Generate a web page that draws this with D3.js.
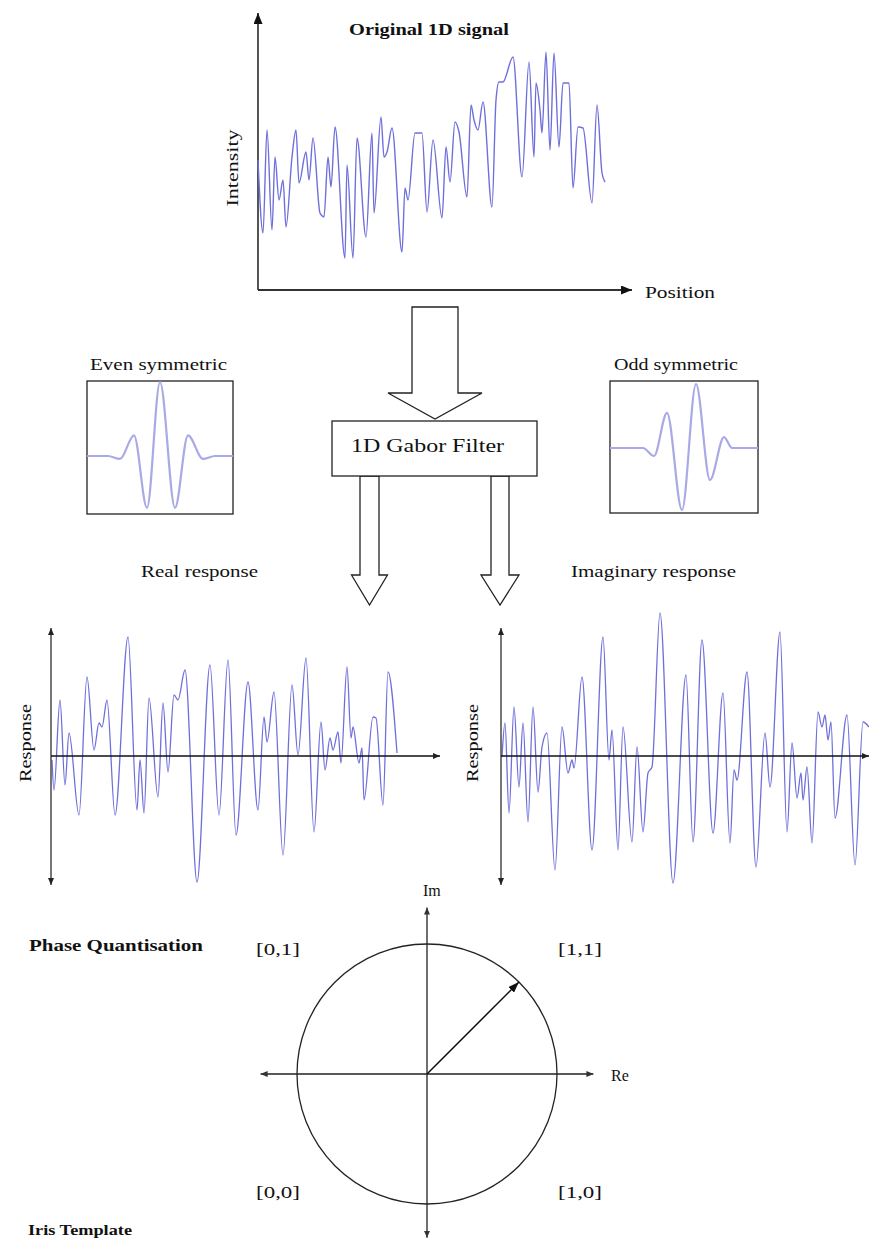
<!DOCTYPE html>
<html>
<head>
<meta charset="utf-8">
<script src="https://cdn.jsdelivr.net/npm/d3@7"></script>
<style>
body { margin: 0; background: #fff; }
svg { display: block; }
text { font-family: "Liberation Serif", "Times New Roman", serif; fill: #111; }
</style>
</head>
<body>
<svg id="fig" width="869" height="1240"></svg>
<script>
// original 1D signal, local extrema
var signalPos = [0,5,9,14,17,21,25,28,34,38,41,48,51,55,62,66,70,73,77,87,89,95,99,108,114,116,123,126,129,134,144,147,150,157,164,169,175,184,188,192,197,201,209,213,216,220,225,234,238,241,245,255,264,271,276,278,282,284,288,292,296,301,305,311,315,320,325,334,339,344,347];
var signalVal = [130,57,160,60,133,90,110,63,133,160,107,138,110,152,77,73,133,103,163,32,125,32,152,53,157,77,173,133,138,162,38,102,90,157,157,78,150,72,143,108,168,158,93,185,170,160,188,83,190,208,208,233,113,228,133,207,180,157,238,140,237,143,207,207,102,163,162,87,185,117,108];

// real (even) response
var realPos = [1,3,9,14,18,28,36,43,48,51,56,64,77,86,89,93,98,107,112,117,123,127,134,146,159,168,177,185,197,207,213,216,223,232,241,247,255,263,270,274,279,282,287,290,296,300,302,308,311,313,322,325,332,337,346];
var realVal = [-4,-34,56,-29,23,-59,79,6,33,29,56,-59,119,-54,-4,-57,58,-41,53,-16,61,56,86,-126,91,-59,96,-79,74,-54,39,14,64,-99,71,1,98,-76,34,-14,18,6,24,-7,89,18,29,-7,8,-44,39,38,-49,84,3];

// imaginary (odd) response
var imagPos = [1,4,8,13,18,22,27,32,37,41,46,54,61,67,71,73,81,91,102,108,111,117,122,131,136,142,147,151,159,172,185,192,201,212,222,229,233,236,246,255,264,269,279,286,291,296,300,302,306,311,317,321,324,327,330,334,346,354,362,368];
var imagVal = [-1,33,-57,49,-31,33,-66,49,-36,9,23,-114,29,-17,-4,-12,79,-94,119,-4,26,-94,29,-86,9,-76,-17,-11,143,-127,81,-86,116,-77,63,-87,-14,-24,84,-111,23,-31,124,-76,13,-42,-17,-44,-11,-87,44,29,41,16,34,-62,41,-109,34,29];

// gabor kernels
var evenPos = [-73,-52,-40,-26,-13,0,15,28,43,55,73];
var evenVal = [0,0,-0.04,0.28,-0.70,1,-0.70,0.28,-0.04,0,0];
var oddPos = [-74,-41,-30,-17,-2,12,26,40,48,74];
var oddVal = [0,0,-0.125,0.55,-0.97,1,-0.5,0.17,0,0];

// phase quantisation
var phaseAngle = 45;
var quadrants = [
  {label: "[0,1]", re: -1, im: 1},
  {label: "[1,1]", re: 1, im: 1},
  {label: "[0,0]", re: -1, im: -1},
  {label: "[1,0]", re: 1, im: -1}
];

var svg = d3.select("#fig");
var waveColor = "#6f6fdc";

function arrowMarker(id, len, wid, color) {
  svg.select("defs").append("marker")
    .attr("id", id)
    .attr("markerUnits", "userSpaceOnUse")
    .attr("viewBox", `0 ${-wid/2} ${len} ${wid}`)
    .attr("refX", len).attr("refY", 0)
    .attr("markerWidth", len).attr("markerHeight", wid)
    .attr("orient", "auto-start-reverse")
    .append("path")
    .attr("d", `M0,${-wid/2}L${len},0L0,${wid/2}Z`)
    .attr("fill", color);
}
svg.append("defs");
arrowMarker("big", 11, 9, "#111");
arrowMarker("mid", 7, 6, "#222");
arrowMarker("small", 7, 6, "#333");
arrowMarker("phasor", 11, 8, "#111");

function zip(a, b) { return a.map((d, i) => [d, b[i]]); }

// ---------- original signal ----------
var x0 = d3.scaleLinear().domain([0, 374]).range([258, 632]);
var y0 = d3.scaleLinear().domain([0, 280]).range([290, 10]);

svg.append("line").attr("x1", x0(0)).attr("y1", y0(0)).attr("x2", x0(0)).attr("y2", y0(277))
  .attr("stroke", "#555").attr("stroke-width", 2).attr("marker-end", "url(#big)");
svg.append("line").attr("x1", x0(0)).attr("y1", y0(0)).attr("x2", x0(374)).attr("y2", y0(0))
  .attr("stroke", "#333").attr("stroke-width", 2).attr("marker-end", "url(#big)");

svg.append("path")
  .datum(zip(signalPos, signalVal))
  .attr("fill", "none").attr("stroke", waveColor).attr("stroke-width", 1.4)
  .attr("d", d3.line().x(d => x0(d[0])).y(d => y0(d[1])).curve(d3.curveMonotoneX));

svg.append("text").attr("x", 349).attr("y", 35).attr("font-weight", "bold").attr("font-size", 17)
  .attr("textLength", 160).attr("lengthAdjust", "spacingAndGlyphs").text("Original 1D signal");
svg.append("text").attr("transform", "translate(238,168) rotate(-90)").attr("text-anchor", "middle")
  .attr("font-size", 16).attr("textLength", 77).attr("lengthAdjust", "spacingAndGlyphs").text("Intensity");
svg.append("text").attr("x", 645).attr("y", 298).attr("font-size", 16)
  .attr("textLength", 70).attr("lengthAdjust", "spacingAndGlyphs").text("Position");

// ---------- hollow block arrows ----------
function blockArrow(cx, top, shaftW, headY, headW, tip) {
  var p = [[cx - shaftW/2, top], [cx + shaftW/2, top], [cx + shaftW/2, headY], [cx + headW/2, headY],
           [cx, tip], [cx - headW/2, headY], [cx - shaftW/2, headY]];
  svg.append("path").attr("d", d3.line()(p) + "Z")
    .attr("fill", "#fff").attr("stroke", "#222").attr("stroke-width", 1.3);
}
blockArrow(435, 307, 46, 393, 94, 419);
blockArrow(369.5, 476, 19, 575, 36, 605);
blockArrow(500, 476, 18, 575, 38, 605);

svg.append("rect").attr("x", 332).attr("y", 421).attr("width", 205).attr("height", 55)
  .attr("fill", "#fff").attr("stroke", "#222").attr("stroke-width", 1.3);
svg.append("text").attr("x", 351).attr("y", 452).attr("font-size", 18)
  .attr("textLength", 153).attr("lengthAdjust", "spacingAndGlyphs").text("1D Gabor Filter");

// ---------- kernels ----------
function kernel(bx, by, bw, bh, base, amp, pos, val, title, tx, tlen) {
  svg.append("rect").attr("x", bx).attr("y", by).attr("width", bw).attr("height", bh)
    .attr("fill", "#fff").attr("stroke", "#222").attr("stroke-width", 1.3);
  var kx = d3.scaleLinear().domain([-bw/2, bw/2]).range([bx, bx + bw]);
  var ky = d3.scaleLinear().domain([0, 1]).range([base, base - amp]);
  svg.append("path").datum(zip(pos, val))
    .attr("fill", "none").attr("stroke", "#a9a9e6").attr("stroke-width", 2.2)
    .attr("d", d3.line().x(d => kx(d[0])).y(d => ky(d[1])).curve(d3.curveMonotoneX));
  svg.append("text").attr("x", tx).attr("y", by - 11).attr("font-size", 16)
    .attr("textLength", tlen).attr("lengthAdjust", "spacingAndGlyphs").text(title);
}
kernel(87, 381, 146, 133, 456, 74, evenPos, evenVal, "Even symmetric", 90, 137);
kernel(610, 381, 148, 132, 448, 64, oddPos, oddVal, "Odd symmetric", 614, 124);

svg.append("text").attr("x", 141).attr("y", 577).attr("font-size", 16)
  .attr("textLength", 117).attr("lengthAdjust", "spacingAndGlyphs").text("Real response");
svg.append("text").attr("x", 571).attr("y", 577).attr("font-size", 16)
  .attr("textLength", 165).attr("lengthAdjust", "spacingAndGlyphs").text("Imaginary response");

// ---------- responses ----------
var yr = d3.scaleLinear().domain([-129, 128]).range([885, 628]);
function responsePlot(left, right, pos, val, labelX) {
  var xr = d3.scaleLinear().domain([0, right - left]).range([left, right]);
  svg.append("path").datum(zip(pos, val))
    .attr("fill", "none").attr("stroke", waveColor).attr("stroke-width", 1.3)
    .attr("d", d3.line().x(d => xr(d[0])).y(d => yr(d[1])).curve(d3.curveMonotoneX));
  svg.append("line").attr("x1", left).attr("x2", left).attr("y1", yr(0)).attr("y2", yr(128))
    .attr("stroke", "#555").attr("stroke-width", 1.6).attr("marker-end", "url(#mid)");
  svg.append("line").attr("x1", left).attr("x2", left).attr("y1", yr(0)).attr("y2", yr(-129))
    .attr("stroke", "#555").attr("stroke-width", 1.6).attr("marker-end", "url(#mid)");
  svg.append("line").attr("x1", left).attr("x2", right).attr("y1", yr(0)).attr("y2", yr(0))
    .attr("stroke", "#111").attr("stroke-width", 1.5).attr("marker-end", "url(#mid)");
  svg.append("text").attr("transform", `translate(${labelX},${yr(13)}) rotate(-90)`)
    .attr("text-anchor", "middle").attr("font-size", 16)
    .attr("textLength", 78).attr("lengthAdjust", "spacingAndGlyphs").text("Response");
}
responsePlot(51, 440, realPos, realVal, 31);
responsePlot(501, 869, imagPos, imagVal, 478);

// ---------- phase quantisation ----------
var cx = 427, cy = 1074, R = 130;
var px = d3.scaleLinear().domain([-1, 1]).range([cx - R, cx + R]);
var py = d3.scaleLinear().domain([-1, 1]).range([cy + R, cy - R]);

svg.append("circle").attr("cx", px(0)).attr("cy", py(0)).attr("r", px(1) - px(0))
  .attr("fill", "none").attr("stroke", "#222").attr("stroke-width", 1.3);
svg.append("line").attr("x1", px(-1.28)).attr("x2", px(1.28)).attr("y1", py(0)).attr("y2", py(0))
  .attr("stroke", "#222").attr("stroke-width", 1.3)
  .attr("marker-start", "url(#small)").attr("marker-end", "url(#small)");
svg.append("line").attr("x1", px(0)).attr("x2", px(0)).attr("y1", py(1.28)).attr("y2", py(-1.26))
  .attr("stroke", "#222").attr("stroke-width", 1.3)
  .attr("marker-start", "url(#small)").attr("marker-end", "url(#small)");
var a = phaseAngle * Math.PI / 180;
svg.append("line").attr("x1", px(0)).attr("y1", py(0)).attr("x2", px(Math.cos(a))).attr("y2", py(Math.sin(a)))
  .attr("stroke", "#111").attr("stroke-width", 1.5).attr("marker-end", "url(#phasor)");

svg.selectAll("text.quad").data(quadrants).enter().append("text")
  .attr("class", "quad")
  .attr("x", d => px(d.re * 1.0) + (d.re < 0 ? -42 : 0) + 1)
  .attr("y", d => d.im > 0 ? 955 : 1198)
  .attr("font-size", 17)
  .attr("textLength", 44).attr("lengthAdjust", "spacingAndGlyphs")
  .text(d => d.label);

svg.append("text").attr("x", 423).attr("y", 896).attr("font-size", 16).text("Im");
svg.append("text").attr("x", 611).attr("y", 1081).attr("font-size", 16).text("Re");
svg.append("text").attr("x", 29).attr("y", 951).attr("font-weight", "bold").attr("font-size", 16)
  .attr("textLength", 174).attr("lengthAdjust", "spacingAndGlyphs").text("Phase Quantisation");
svg.append("text").attr("x", 28).attr("y", 1235).attr("font-weight", "bold").attr("font-size", 15)
  .attr("textLength", 104).attr("lengthAdjust", "spacingAndGlyphs").text("Iris Template");
</script>
</body>
</html>
